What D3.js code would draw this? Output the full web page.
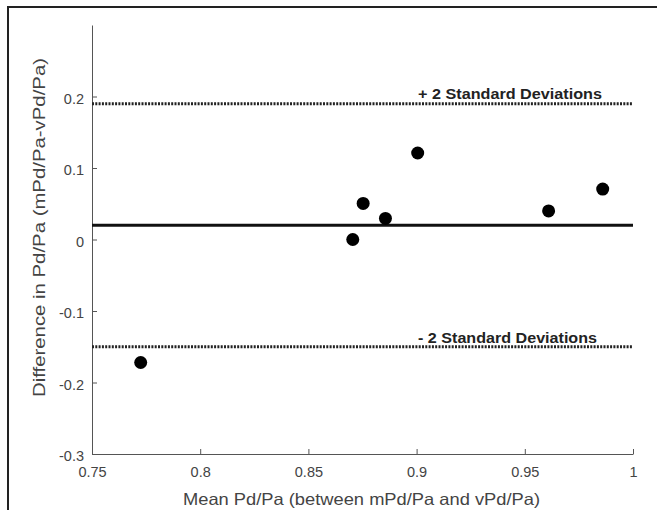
<!DOCTYPE html>
<html><head><meta charset="utf-8">
<script src="https://cdn.jsdelivr.net/npm/d3@7"></script>
<style>body{margin:0;background:#fff}svg{display:block}text{font-family:"Liberation Sans",Arial,sans-serif}</style>
</head><body><svg id="c" width="657" height="510"></svg>
<script>
const meanX = [0.7725, 0.8705, 0.8753, 0.8856, 0.9005, 0.961, 0.986];
const diffY = [-0.172, 0.0, 0.0505, 0.0295, 0.121, 0.040, 0.0705];
const meanDiff = 0.02;
const upperLimit = 0.19;
const lowerLimit = -0.15;
const xTicks = [0.75, 0.8, 0.85, 0.9, 0.95, 1];
const xTickLabels = ["0.75", "0.8", "0.85", "0.9", "0.95", "1"];
const yTicks = [-0.3, -0.2, -0.1, 0, 0.1, 0.2];
const yTickLabels = ["-0.3", "-0.2", "-0.1", "0", "0.1", "0.2"];
const limitLabels = ["+ 2 Standard Deviations", "- 2 Standard Deviations"];
const xTitle = "Mean Pd/Pa (between mPd/Pa and vPd/Pa)";
const yTitle = "Difference in Pd/Pa (mPd/Pa-vPd/Pa)";

const svg = d3.select("#c");
const L = 92, R = 633, T = 25, B = 454;
const x = d3.scaleLinear().domain([0.75, 1]).range([L, R]);
const y = d3.scaleLinear().domain([-0.3, 0.3]).range([B, T]);

// frame (left + top)
svg.append("path").attr("d", "M8,510 L8,7 L657,7").attr("fill", "none").attr("stroke", "#222").attr("stroke-width", 2);

const axCol = "#555";
// x axis
const gx = svg.append("g").attr("transform", `translate(0,${B})`)
  .call(d3.axisBottom(x).tickValues(xTicks).tickFormat((d, i) => xTickLabels[i]).tickSizeInner(-5).tickSizeOuter(0).tickPadding(13));
gx.select(".domain").attr("stroke", axCol);
gx.selectAll(".tick line").attr("stroke", axCol);
gx.selectAll("text").attr("fill", "#444").attr("font-size", 14.5);

// y axis
const gy = svg.append("g").attr("transform", `translate(${L},0)`)
  .call(d3.axisLeft(y).tickValues(yTicks).tickFormat((d, i) => yTickLabels[i]).tickSizeInner(-5).tickSizeOuter(0).tickPadding(8));
gy.select(".domain").attr("stroke", axCol);
gy.selectAll(".tick line").attr("stroke", axCol);
gy.selectAll("text").attr("fill", "#444").attr("font-size", 14.5).attr("dy", "0.45em");

// limit lines
[upperLimit, lowerLimit].forEach(v => {
  svg.append("line").attr("x1", x(0.75)).attr("x2", x(1)).attr("y1", y(v)).attr("y2", y(v))
    .attr("stroke", "#222").attr("stroke-width", 3).attr("stroke-dasharray", "2,1.3");
});
// mean line
svg.append("line").attr("x1", x(0.75)).attr("x2", x(1)).attr("y1", y(meanDiff)).attr("y2", y(meanDiff))
  .attr("stroke", "#111").attr("stroke-width", 3);

// limit labels
svg.append("text").attr("x", 418).attr("y", y(upperLimit) - 5)
  .attr("font-weight", "bold").attr("font-size", 14.5).attr("fill", "#222")
  .attr("textLength", 184).attr("lengthAdjust", "spacingAndGlyphs").text(limitLabels[0]);
svg.append("text").attr("x", 418).attr("y", y(lowerLimit) - 4)
  .attr("font-weight", "bold").attr("font-size", 14.5).attr("fill", "#222")
  .attr("textLength", 179).attr("lengthAdjust", "spacingAndGlyphs").text(limitLabels[1]);

// points
svg.selectAll("circle.pt").data(meanX.map((m, i) => [m, diffY[i]])).enter().append("circle")
  .attr("class", "pt").attr("cx", d => x(d[0])).attr("cy", d => y(d[1])).attr("r", 6.5).attr("fill", "#000");

// titles
svg.append("text").attr("x", 183).attr("y", 505)
  .attr("font-size", 16.5).attr("fill", "#444")
  .attr("textLength", 357).attr("lengthAdjust", "spacingAndGlyphs").text(xTitle);
svg.append("text").attr("transform", `translate(45,397) rotate(-90)`)
  .attr("font-size", 16.5).attr("fill", "#444")
  .attr("textLength", 339).attr("lengthAdjust", "spacingAndGlyphs").text(yTitle);
</script></body></html>
